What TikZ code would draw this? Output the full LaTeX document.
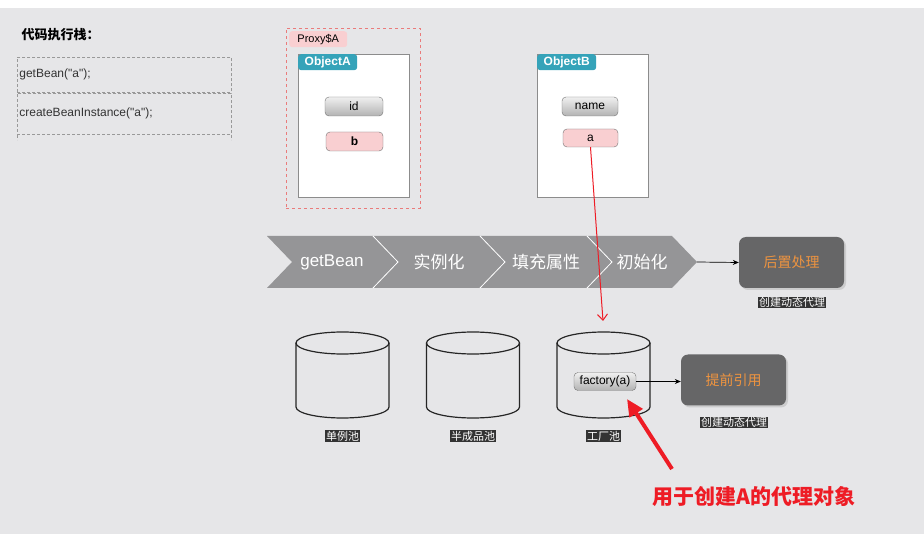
\documentclass[tikz,border=0pt]{standalone}
\usepackage{fontspec}
\setmainfont{Liberation Sans}
\newfontfamily\cjk{Noto Sans CJK SC}
\usetikzlibrary{arrows.meta,shadows}

\definecolor{bgc}{HTML}{E6E6E8}
\definecolor{tealc}{HTML}{35A3B9}
\definecolor{pinkc}{HTML}{F9CFD1}
\definecolor{proxyc}{HTML}{EA7B7B}
\definecolor{chevc}{HTML}{959597}
\definecolor{boxc}{HTML}{666667}
\definecolor{orangec}{HTML}{EE9440}
\definecolor{redc}{HTML}{EE1C25}
\definecolor{textc}{HTML}{333333}

\tikzset{
	pill/.style={draw=black!55, rounded corners=4pt, inner sep=0pt,
		minimum height=19pt, font=\fontsize{12}{14}\selectfont},
	graypill/.style={pill, top color=white!94!black, bottom color=black!30},
	pinkpill/.style={pill, fill=pinkc},
	objbox/.style={draw=black!45, line width=1pt, fill=white, inner sep=0pt,
		minimum width=111pt, minimum height=143pt, anchor=north west},
	objtag/.style={fill=tealc, text=white, rounded corners=3pt, inner sep=0pt,
		minimum width=59pt, minimum height=16pt, anchor=north west,
		font=\bfseries\fontsize{12}{14}\selectfont},
	darkbox/.style={fill=boxc, rounded corners=7pt, minimum width=105pt,
		minimum height=51pt, text=orangec, font=\cjk\fontsize{14}{16}\selectfont,
		drop shadow={opacity=0.25, shadow xshift=2pt, shadow yshift=-2pt}},
	darklabel/.style={fill=black!80, text=white, inner sep=0.8pt,
		font=\cjk\fontsize{11}{12}\selectfont},
	stackrow/.style={draw=black!40, dash pattern=on 3pt off 2pt, line width=0.8pt,
		minimum width=214pt, anchor=north west, inner xsep=1pt, text width=210pt,
		align=left, text=textc, font=\fontsize{12}{14}\selectfont},
	chainlabel/.style={text=white, font=\fontsize{17}{19}\selectfont},
}

\begin{document}
\begin{tikzpicture}[x=1pt,y=-1pt]
	\fill[bgc] (0,0) rectangle (924,534);
	\fill[white] (0,0) rectangle (924,8);

	% code stack
	\node[anchor=west, font=\cjk\bfseries\fontsize{13}{15}\selectfont] (stacktitle) at (18,35) {代码执行栈：};
	\node[stackrow, minimum height=35pt] (row1) at (17,57) {getBean(\textquotedbl a\textquotedbl);};
	\node[stackrow, minimum height=41pt] (row2) at (row1.south west) {createBeanInstance(\textquotedbl a\textquotedbl);};
	\draw[black!40, dash pattern=on 3pt off 2pt, line width=0.8pt] (row2.south west) -- ++(0,5);
	\draw[black!40, dash pattern=on 3pt off 2pt, line width=0.8pt] (row2.south east) -- ++(0,5);

	% proxy around ObjectA
	\node[draw=proxyc, dashed, minimum width=134pt, minimum height=180pt, anchor=north west] (proxyA) at (286,28) {};
	\node[fill=pinkc, rounded corners=3pt, inner sep=0pt, minimum width=58pt, minimum height=16pt,
		anchor=north west, font=\fontsize{11}{13}\selectfont] (proxytag) at (289,31) {Proxy\$A};

	% ObjectA
	\node[objbox] (objA) at (298,54) {};
	\node[objtag] (tagA) at (objA.north west) {ObjectA};
	\node[graypill, minimum width=58pt] (idA) at (354,106.5) {id};
	\node[pinkpill, minimum width=57pt, font=\bfseries\fontsize{12}{14}\selectfont] (bA) at (354.5,141.5) {b};

	% ObjectB
	\node[objbox] (objB) at (537,54) {};
	\node[objtag] (tagB) at (objB.north west) {ObjectB};
	\node[graypill, minimum width=56pt] (nameB) at (590,106.5) {name};
	\node[pinkpill, minimum width=55pt, minimum height=18pt] (aB) at (590.5,138) {a};

	% bean life cycle
	\foreach \s/\e in {267/373, 373/480, 480/587, 587/672}
		\fill[chevc] (\s,236) -- (\e,236) -- (\e+25,262) -- (\e,288) -- (\s,288) -- (\s+25,262) -- cycle;
	\foreach \e in {373,480,587}
		\draw[white, line width=0.8pt] (\e,236) -- (\e+25,262) -- (\e,288);
	\node[chainlabel] (getbean) at (332,262) {getBean};
	\node[chainlabel, font=\cjk\fontsize{17}{19}\selectfont] (inst) at (439,262) {实例化};
	\node[chainlabel, font=\cjk\fontsize{17}{19}\selectfont] (populate) at (546,262) {填充属性};
	\node[chainlabel, font=\cjk\fontsize{17}{19}\selectfont] (init) at (642,262) {初始化};
	\coordinate (chaintip) at (697,262);

	\node[darkbox] (post) at (791.5,262.5) {后置处理};
	\node[darklabel] (postlabel) at (792,302.5) {创建动态代理};
	\draw[-{Stealth[length=6pt,width=5pt]}, line width=0.7pt] (chaintip) -- (post.west);

	% three caches
	\foreach \cx/\name in {342.5/单例池, 473/半成品池, 603.5/工厂池} {
		\draw[line width=1.2pt, black!85] (\cx-46.5,343) -- (\cx-46.5,407)
			arc[start angle=180, end angle=0, x radius=46.5, y radius=11] -- (\cx+46.5,343);
		\draw[line width=1.2pt, black!85] (\cx,343) ellipse[x radius=46.5, y radius=11];
		\node[darklabel] at (\cx,436) {\name};
	}
	\coordinate (poolhit) at (603,321);

	\node[graypill, minimum width=62pt, minimum height=18pt] (factory) at (605,381.5) {factory(a)};
	\node[darkbox] (early) at (733.5,380) {提前引用};
	\node[darklabel] (earlylabel) at (734,422.5) {创建动态代理};
	\draw[-{Stealth[length=6pt,width=5pt]}, line width=0.7pt] (factory.east) -- (factory.east -| early.west);

	% red notes
	\draw[redc, line width=1pt, -{Straight Barb[length=6pt,width=10pt]}] (aB.south) -- (poolhit);
	\coordinate (notetail) at (672,469);
	\coordinate (notehead) at (627,399);
	\draw[redc, line width=4pt, -{Triangle[length=17pt,width=15pt]}] (notetail) -- (notehead);
	\node[text=redc, font=\cjk\bfseries\fontsize{21}{23}\selectfont] (note) at (754,497) {用于创建A的代理对象};
\end{tikzpicture}
\end{document}
